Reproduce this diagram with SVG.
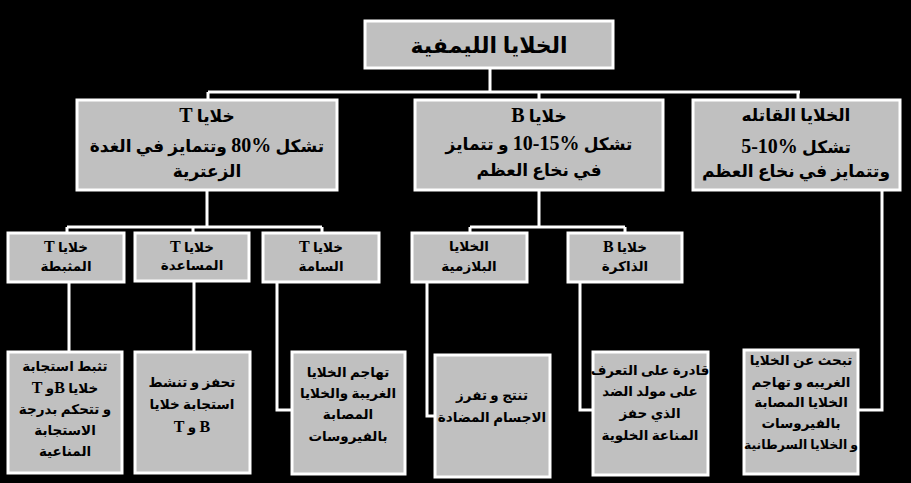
<svg xmlns="http://www.w3.org/2000/svg" width="911" height="483" viewBox="0 0 911 483">
<style>
.box{fill:#c0c0c0;stroke:#ffffff;stroke-width:3}
.c{fill:none;stroke:#ffffff;stroke-width:3}
text{font-family:"Liberation Serif","DejaVu Sans",sans-serif;font-weight:bold;fill:#000;text-anchor:middle;direction:rtl}
.t0{font-size:22px}
.t1{font-size:17px}
.t2{font-size:13.5px}
.t3{font-size:13.5px}
.L1{font-size:20px}
.L2{font-size:16px}
.n{direction:ltr;unicode-bidi:isolate}
</style>
<rect x="0" y="0" width="911" height="483" fill="#000"/>
<g id="connectors">
<path class="c" d="M490,68V92M208,92H800M208,92V100M539,92V100M798,92V100"/>
<path class="c" d="M207,190V227M67,227H322M67,227V233M193,227V233M322,227V233"/>
<path class="c" d="M539,190V227M470,227H625M470,227V233M625,227V233"/>
<path class="c" d="M69,282V352M194,282V352M277,282V410H292M427,282V416H435M580,282V410H593M882,190V410H858"/>
</g>
<g id="root"><rect class="box" x="365" y="21" width="248" height="47"/><text class="t0" x="489" y="53">الخلايا الليمفية</text></g>
<g id="tcells"><rect class="box" x="77" y="100" width="260" height="90"/>
<text class="t1" x="207" y="122">خلايا <tspan class="L1">T</tspan></text><text class="t1" x="207" y="152">تشكل <tspan class="L1 n">80%</tspan> وتتمايز في الغدة</text><text class="t1" x="207" y="177">الزعترية</text></g>
<g id="bcells"><rect class="box" x="415" y="100" width="248" height="90"/>
<text class="t1" x="539" y="122">خلايا <tspan class="L1">B</tspan></text><text class="t1" x="539" y="150">تشكل <tspan class="L1 n">10-15%</tspan> و تتمايز</text><text class="t1" x="539" y="176">في نخاع العظم</text></g>
<g id="nkcells"><rect class="box" x="693" y="100" width="207" height="90"/>
<text class="t1" x="796" y="121">الخلايا القاتله</text><text class="t1" x="796" y="153">تشكل <tspan class="L1 n">5-10%</tspan></text><text class="t1" x="796" y="177">وتتمايز في نخاع العظم</text></g>
<g id="tsupp"><rect class="box" x="8" y="233" width="116" height="49"/><text class="t2" x="66" y="252">خلايا <tspan class="L2">T</tspan></text><text class="t2" x="66" y="271">المثبطة</text></g>
<g id="thelp"><rect class="box" x="135" y="233" width="114" height="48"/><text class="t2" x="192" y="252">خلايا <tspan class="L2">T</tspan></text><text class="t2" x="192" y="270">المساعدة</text></g>
<g id="tcyto"><rect class="box" x="263" y="233" width="116" height="49"/><text class="t2" x="321" y="252">خلايا <tspan class="L2">T</tspan></text><text class="t2" x="321" y="271">السامة</text></g>
<g id="plasma"><rect class="box" x="412" y="233" width="115" height="49"/><text class="t2" x="469" y="251">الخلايا</text><text class="t2" x="469" y="271">البلازمية</text></g>
<g id="bmem"><rect class="box" x="568" y="233" width="114" height="49"/><text class="t2" x="625" y="252">خلايا <tspan class="L2">B</tspan></text><text class="t2" x="625" y="271">الذاكرة</text></g>
<g id="d1"><rect class="box" x="8" y="352" width="114" height="121"/>
<text class="t3" x="65" y="371">تثبط استجابة</text><text class="t3" x="65" y="393">خلايا <tspan class="L2">B</tspan>و <tspan class="L2">T</tspan></text><text class="t3" x="65" y="414">و تتحكم بدرجة</text><text class="t3" x="65" y="435">الاستجابة</text><text class="t3" x="65" y="456">المناعية</text></g>
<g id="d2"><rect class="box" x="135" y="352" width="115" height="121"/>
<text class="t3" x="192" y="387">تحفز و تنشط</text><text class="t3" x="192" y="409">استجابة خلايا</text><text class="t3" x="192" y="432"><tspan class="L2">B</tspan> و <tspan class="L2">T</tspan></text></g>
<g id="d3"><rect class="box" x="292" y="352" width="113" height="122"/>
<text class="t3" x="348" y="377">تهاجم الخلايا</text><text class="t3" x="348" y="398">الغريبة والخلايا</text><text class="t3" x="348" y="419">المصابة</text><text class="t3" x="348" y="441">بالفيروسات</text></g>
<g id="d4"><rect class="box" x="435" y="355" width="115" height="122"/>
<text class="t3" x="492" y="400">تنتج و تفرز</text><text class="t3" x="492" y="422">الاجسام المضادة</text></g>
<g id="d5"><rect class="box" x="593" y="352" width="115" height="123"/>
<text class="t3" x="650" y="375">قادرة على التعرف</text><text class="t3" x="650" y="396">على مولد الضد</text><text class="t3" x="650" y="418">الذي حفز</text><text class="t3" x="650" y="440">المناعة الخلوية</text></g>
<g id="d6"><rect class="box" x="744" y="350" width="114" height="124"/>
<text class="t3" x="801" y="365">تبحث عن الخلايا</text><text class="t3" x="801" y="387">الغريبه و تهاجم</text><text class="t3" x="801" y="407">الخلايا المصابة</text><text class="t3" x="801" y="428">بالفيروسات</text><text class="t3" x="801" y="449" style="font-size:12.5px">و الخلايا السرطانية</text></g>
</svg>
